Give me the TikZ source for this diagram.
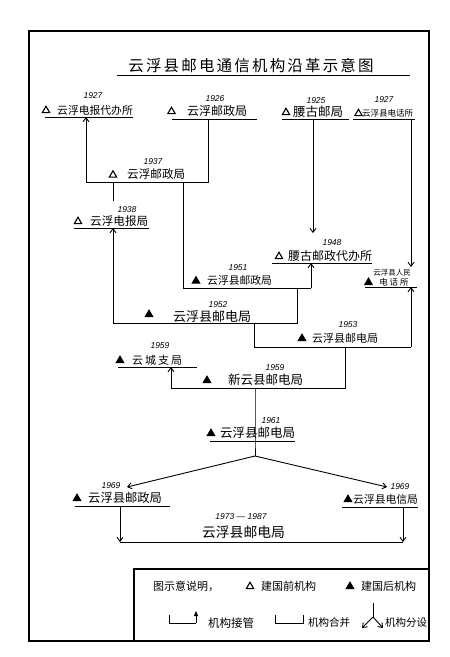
\documentclass[tikz,border=0pt]{standalone}
\usepackage{fontspec}
\setmainfont{Noto Sans CJK SC}
\newfontfamily\cjkf{Noto Sans CJK SC}
\newfontfamily\titlef[LetterSpace=14]{Noto Sans CJK SC}
\newfontfamily\yrf{Liberation Sans}
\usetikzlibrary{arrows.meta,shapes.geometric}
\newcommand{\myfs}[1]{\fontsize{#1}{#1}\selectfont}
\begin{document}
\begin{tikzpicture}[x=1pt,y=-1pt,
  lbl/.style={inner sep=0pt, anchor=west},
  yr/.style={inner sep=0pt, font=\yrf\itshape\myfs{8.5}},
  ln/.style={line width=0.9pt},
  arr/.style={line width=0.9pt, -{Straight Barb[length=4pt,width=6pt]}},
  farr/.style={line width=0.9pt, -{Triangle[length=5pt,width=4pt]}},
  pre/.style={regular polygon, regular polygon sides=3, draw, line width=1.1pt, inner sep=0pt, minimum size=8.5pt},
  post/.style={pre, fill},
]
\useasboundingbox (0,0) rectangle (450,657);
\fill[white] (0,0) rectangle (450,657);

% frame and legend box
\draw[line width=1.6pt] (29,31) rectangle (429,641);
\coordinate (lgA) at (134,641); \coordinate (lgB) at (134,569); \coordinate (lgC) at (429,569);
\draw[line width=1.3pt] (lgA) -- (lgB) -- (lgC);

% title
\node[inner sep=0pt, font=\titlef\myfs{15.5}] (title) at (251,65.5) {云浮县邮电通信机构沿革示意图};
\coordinate (tL) at (117,75.5); \coordinate (tR) at (410,75.5);
\draw[line width=1pt] (tL) -- (tR);

% ---- row 1
\node[yr] (y27a) at (93,96) {1927};
\node[pre] (t27a) at (46,110.5) {};
\node[lbl, font=\myfs{10.8}] (n27a) at (57,110) {云浮电报代办所};
\coordinate (A1) at (45,117); \coordinate (A2) at (133,117);

\node[yr] (y26) at (215,99) {1926};
\node[pre] (t26) at (171.5,111.5) {};
\node[lbl, font=\myfs{12}] (n26) at (187,111) {云浮邮政局};
\coordinate (B1) at (172,119); \coordinate (B2) at (257,119);

\node[yr] (y25) at (316,101) {1925};
\node[pre] (t25) at (286,112.5) {};
\node[lbl, font=\myfs{12.5}] (n25) at (293,112) {腰古邮局};
\coordinate (C1) at (282,119); \coordinate (C2) at (349,119);

\node[yr] (y27d) at (384,100) {1927};
\node[pre] (t27d) at (358.5,113.5) {};
\node[lbl, font=\myfs{8.5}] (n27d) at (362,113) {云浮县电话所};
\coordinate (D1) at (353,119); \coordinate (D2) at (415,119);

\draw[ln] (A1) -- (A2);
\draw[ln] (B1) -- (B2);
\draw[ln] (C1) -- (C2);
\draw[ln] (D1) -- (D2);

% ---- 1937
\node[yr] (y37) at (153,162) {1937};
\node[pre] (t37) at (113,175) {};
\node[lbl, font=\myfs{11.6}] (n37) at (127,174.5) {云浮邮政局};
\coordinate (Bx) at (208,119);
\coordinate (L37r) at (208,182);
\coordinate (L37l) at (86,182);
\coordinate (Ax) at (86,117);
\draw[ln] (Bx) -- (L37r) -- (L37l);
\draw[arr] (L37l) -- (Ax);
\coordinate (L37a) at (113,182); \coordinate (P38) at (113,201);
\draw[ln] (L37a) -- (P38);

% ---- 1938
\node[yr] (y38) at (127,210) {1938};
\node[pre] (t38) at (78,221.5) {};
\node[lbl, font=\myfs{11.6}] (n38) at (90,221) {云浮电报局};
\coordinate (E1) at (74,228); \coordinate (E2) at (149,228);
\draw[ln] (E1) -- (E2);
\coordinate (Ex) at (113,228);

% ---- 1948
\coordinate (Cx) at (313,119); \coordinate (C48) at (313,233);
\draw[arr] (Cx) -- (C48);
\node[yr] (y48) at (332,243) {1948};
\node[pre] (t48) at (279,256.5) {};
\node[lbl, font=\myfs{12}] (n48) at (288,256) {腰古邮政代办所};
\coordinate (F1) at (272,263); \coordinate (F2) at (372,263);
\draw[ln] (F1) -- (F2);
\coordinate (Fx) at (311,263);

% ---- renmin dianhuasuo
\coordinate (Dx) at (411,119); \coordinate (D50) at (411,267);
\draw[arr] (Dx) -- (D50);
\node[inner sep=0pt, font=\myfs{7.5}] (n50a) at (392,272.5) {云浮县人民};
\node[post] (t50) at (368.5,282.5) {};
\node[inner sep=0pt, font=\myfs{8.5}] (n50b) at (394,282) {电\hspace{2pt}话\hspace{2pt}所};
\coordinate (G1) at (365,287); \coordinate (G2) at (417,287);
\draw[ln] (G1) -- (G2);
\coordinate (Gx) at (411,287);

% ---- 1951
\node[yr] (y51) at (238,268) {1951};
\node[post] (t51) at (196,281) {};
\node[lbl, font=\myfs{10.8}] (n51) at (207,280.5) {云浮县邮政局};
\coordinate (H1) at (183,182); \coordinate (H2) at (183,288); \coordinate (H3) at (311,288);
\draw[ln] (H1) -- (H2) -- (H3);
\draw[arr] (H3) -- (Fx);

% ---- 1952
\node[yr] (y52) at (218,305) {1952};
\node[post] (t52) at (149,314.5) {};
\node[lbl, font=\myfs{13}] (n52) at (173,317) {云浮县邮电局};
\coordinate (I0) at (297,288); \coordinate (I1) at (297,323); \coordinate (I2) at (113,323);
\draw[ln] (I0) -- (I1) -- (I2);
\draw[arr] (I2) -- (Ex);

% ---- 1953
\node[yr] (y53) at (348,325) {1953};
\node[post] (t53) at (302,338.5) {};
\node[lbl, font=\myfs{11}] (n53) at (312,338.5) {云浮县邮电局};
\coordinate (J0) at (254,323); \coordinate (J1) at (254,347); \coordinate (J2) at (411,347);
\draw[ln] (J0) -- (J1) -- (J2);
\draw[arr] (J2) -- (Gx);

% ---- 1959 yuncheng
\node[yr] (y59a) at (160,345.5) {1959};
\node[post] (t59a) at (120,360.5) {};
\node[lbl, font=\myfs{11}] (n59a) at (132,360) {云\hspace{2pt}城\hspace{2pt}支\hspace{2pt}局};
\coordinate (K1) at (118,367); \coordinate (K2) at (197,367);
\draw[ln] (K1) -- (K2);
\coordinate (Kx) at (171,367);

% ---- 1959 xinyun
\node[yr] (y59b) at (275,368) {1959};
\node[post] (t59b) at (207,380.5) {};
\node[lbl, font=\myfs{12.5}] (n59b) at (228,380) {新云县邮电局};
\coordinate (M0) at (345,347); \coordinate (M1) at (345,388); \coordinate (M2) at (171,388);
\draw[ln] (M0) -- (M1) -- (M2);
\draw[arr] (M2) -- (Kx);

% ---- 1961
\node[yr] (y61) at (271,421) {1961};
\node[post] (t61) at (211,433.5) {};
\node[lbl, font=\myfs{12.5}] (n61) at (220,433) {云浮县邮电局};
\coordinate (N1) at (210,441); \coordinate (N2) at (295,441);
\draw[ln] (N1) -- (N2);
\coordinate (M3) at (255,388); \coordinate (Nx) at (255,441); \coordinate (Sp) at (255,456);
\draw[ln] (M3) -- (Nx) -- (Sp);
\coordinate (SL) at (127,487); \coordinate (SR) at (387,487);
\draw[arr] (Sp) -- (SL);
\draw[arr] (Sp) -- (SR);

% ---- 1969
\node[yr] (y69a) at (111,486) {1969};
\node[post] (t69a) at (77,498.5) {};
\node[lbl, font=\myfs{12.3}] (n69a) at (88,498) {云浮县邮政局};
\coordinate (P1) at (75,506); \coordinate (P2) at (170,506);
\draw[ln] (P1) -- (P2);
\node[yr] (y69b) at (400,487) {1969};
\node[post] (t69b) at (348,499.5) {};
\node[lbl, font=\myfs{10.8}] (n69b) at (353,499) {云浮县电信局};
\coordinate (Q1) at (342,507); \coordinate (Q2) at (418,507);
\draw[ln] (Q1) -- (Q2);

% ---- 1973-1987
\node[yr] (y73) at (241,517) {1973 — 1987};
\node[inner sep=0pt, font=\myfs{13.8}] (n73) at (243.5,532.5) {云浮县邮电局};
\coordinate (Px) at (120,506); \coordinate (R1) at (120,542);
\coordinate (Qx) at (403,507); \coordinate (R2) at (403,542);
\draw[arr] (Px) -- (R1);
\draw[arr] (Qx) -- (R2);
\draw[ln] (R1) -- (R2);

% ---- legend
\node[lbl, font=\myfs{11}] (lg0) at (153,586) {图示意说明，};
\node[pre] (lgt1) at (250,586.5) {};
\node[lbl, font=\myfs{11}] (lg1) at (261,586) {建国前机构};
\node[post] (lgt2) at (350,586.5) {};
\node[lbl, font=\myfs{11}] (lg2) at (361,586) {建国后机构};

\coordinate (ta) at (169,615); \coordinate (tb) at (169,623); \coordinate (tc) at (196,623); \coordinate (td) at (196,611);
\draw[ln] (ta) -- (tb) -- (tc);
\draw[farr] (tc) -- (td);
\node[lbl, font=\myfs{11.5}] (lg3) at (208,623) {机构接管};

\coordinate (ma) at (275,615); \coordinate (mb) at (275,623); \coordinate (mc) at (303,623); \coordinate (md) at (303,615);
\draw[ln] (ma) -- (mb) -- (mc) -- (md);
\node[lbl, font=\myfs{10.5}] (lg4) at (308,623) {机构合并};

\coordinate (sa) at (373,603); \coordinate (sb) at (373,617); \coordinate (sc) at (362,628); \coordinate (sd) at (383,628);
\draw[ln] (sa) -- (sb);
\draw[arr] (sb) -- (sc);
\draw[arr] (sb) -- (sd);
\node[lbl, font=\myfs{10.5}] (lg5) at (385,623) {机构分设};
\end{tikzpicture}
\end{document}
